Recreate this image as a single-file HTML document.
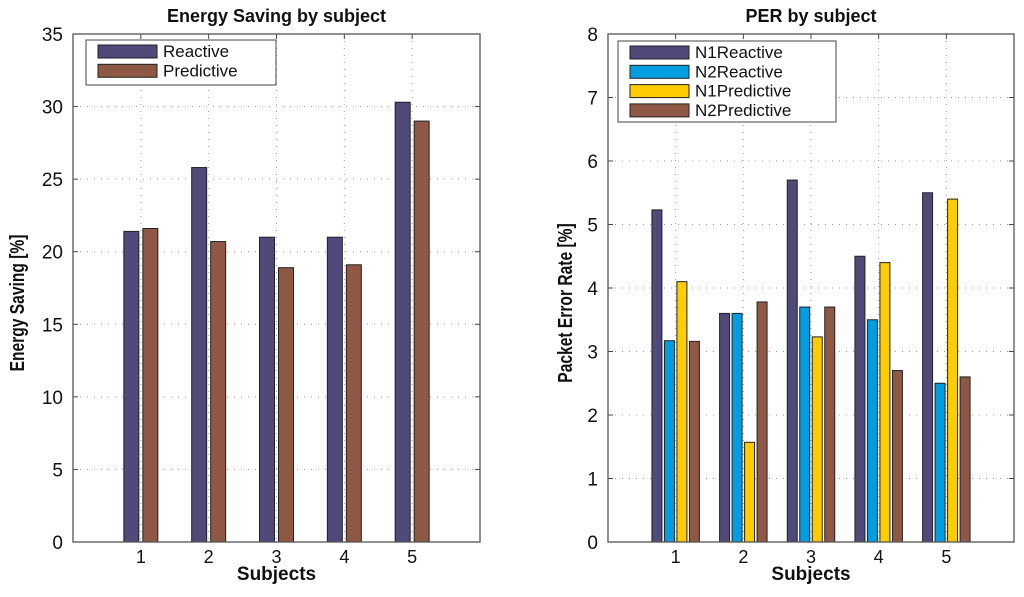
<!DOCTYPE html>
<html><head><meta charset="utf-8"><style>
body{margin:0;background:#fff;}
svg text{font-family:"Liberation Sans",sans-serif;}
</style></head><body>
<svg id="c" width="1024" height="592" xmlns="http://www.w3.org/2000/svg"></svg>
<script>
const subjects=[1,2,3,4,5];
const esReactive=[21.4,25.8,21.0,21.0,30.3];
const esPredictive=[21.6,20.7,18.9,19.1,29.0];
const perN1Reactive=[5.23,3.6,5.7,4.5,5.5];
const perN2Reactive=[3.17,3.6,3.7,3.5,2.5];
const perN1Predictive=[4.1,1.57,3.23,4.4,5.4];
const perN2Predictive=[3.16,3.78,3.7,2.7,2.6];
const esTicks=[0,5,10,15,20,25,30,35];
const perTicks=[0,1,2,3,4,5,6,7,8];
const NS="http://www.w3.org/2000/svg";
const svg=document.getElementById('c');
function mk(t,a,p){const e=document.createElementNS(NS,t);for(const k in a)e.setAttribute(k,a[k]);(p||svg).appendChild(e);return e;}
function panel(o){
  const g=mk('g',{});
  
  
  const x=v=>o.x0+(v/6)*(o.x1-o.x0);
  const y=v=>o.y1-(v/o.ymax)*(o.y1-o.y0);
  mk('rect',{x:o.x0,y:o.y0,width:o.x1-o.x0,height:o.y1-o.y0,fill:'#fff'},g);
  o.ticks.forEach(t=>{
    if(t>0&&t<o.ymax){const l=mk('line',{x1:o.x0,x2:o.x1,y1:y(t),y2:y(t),stroke:'#999','stroke-dasharray':'1,6','stroke-width':1},g);
    }
    mk('line',{x1:o.x0,x2:o.x0+5,y1:y(t),y2:y(t),stroke:'#444'},g);
    mk('line',{x1:o.x1,x2:o.x1-5,y1:y(t),y2:y(t),stroke:'#444'},g);
    const tx=mk('text',{x:o.x0-10,y:y(t)+7,'text-anchor':'end','font-size':19,fill:'#111'},g);
    tx.textContent=t;
    
  });
  subjects.forEach(s=>{
    const l=mk('line',{x1:x(s),x2:x(s),y1:o.y0,y2:o.y1,stroke:'#999','stroke-dasharray':'1,6'},g);
    
    mk('line',{x1:x(s),x2:x(s),y1:o.y0,y2:o.y0+5,stroke:'#444'},g);
    const tx=mk('text',{x:x(s),y:o.y1+21,'text-anchor':'middle','font-size':18,fill:'#111'},g);
    tx.textContent=s;
    
  });
  const n=o.series.length;
  o.series.forEach((se,i)=>{
    se.vals.forEach((v,j)=>{
      const cx=x(subjects[j])+(i-(n-1)/2)*o.step;
      const r=mk('rect',{x:cx-o.bw/2,y:y(v),width:o.bw,height:y(0)-y(v),fill:se.color,stroke:'#222','stroke-width':1},g);
      
      
    });
  });
  mk('rect',{x:o.x0,y:o.y0,width:o.x1-o.x0,height:o.y1-o.y0,fill:'none',stroke:'#555','stroke-width':1.3},g);
  const tt=mk('text',{x:(o.x0+o.x1)/2,y:22,'text-anchor':'middle','font-size':18,'font-weight':'bold',fill:'#111'},g);
  tt.textContent=o.title;
  const xt=mk('text',{x:(o.x0+o.x1)/2,y:580,'text-anchor':'middle','font-size':19,'font-weight':'bold',fill:'#111'},g);
  xt.textContent='Subjects';
  const yt=mk('text',{x:0,y:0,'text-anchor':'middle','font-size':20,'font-weight':'bold',fill:'#111',transform:`translate(${o.ylx},${(o.y0+o.y1)/2+15}) rotate(-90) scale(0.78,1)`},g);
  yt.textContent=o.ylabel;
  const lg=mk('g',{},g);
  
  mk('rect',{x:o.lx,y:o.ly,width:o.lw,height:o.lh,fill:'#fff',stroke:'#444'},lg);
  o.series.forEach((se,i)=>{
    const cy=o.ly+11+i*19.3;
    const e=mk('g',{},lg);
    
    mk('rect',{x:o.lx+12,y:cy-6,width:59,height:13,fill:se.color,stroke:'#222'},e);
    const t=mk('text',{x:o.lx+77,y:cy+6,'font-size':17,fill:'#111'},e);
    t.textContent=se.label;
  });
}
panel({name:'energy-saving-chart',x0:73,x1:480,y0:34,y1:542,ymax:35,ticks:esTicks,title:'Energy Saving by subject',ylabel:'Energy Saving [%]',ylx:24,
  bw:15,step:19,lx:86,ly:40,lw:190,lh:45,
  series:[{key:'reactive',label:'Reactive',vals:esReactive,color:'#4f4a7a'},{key:'predictive',label:'Predictive',vals:esPredictive,color:'#8f5845'}]});
panel({name:'per-chart',x0:608,x1:1014,y0:34,y1:542,ymax:8,ticks:perTicks,title:'PER by subject',ylabel:'Packet Error Rate [%]',ylx:572,
  bw:10,step:12.5,lx:618,ly:41,lw:218,lh:81,
  series:[{key:'n1reactive',label:'N1Reactive',vals:perN1Reactive,color:'#4f4a7a'},{key:'n2reactive',label:'N2Reactive',vals:perN2Reactive,color:'#009ee0'},
  {key:'n1predictive',label:'N1Predictive',vals:perN1Predictive,color:'#ffcc00'},{key:'n2predictive',label:'N2Predictive',vals:perN2Predictive,color:'#8f5845'}]});
</script>
</body></html>
